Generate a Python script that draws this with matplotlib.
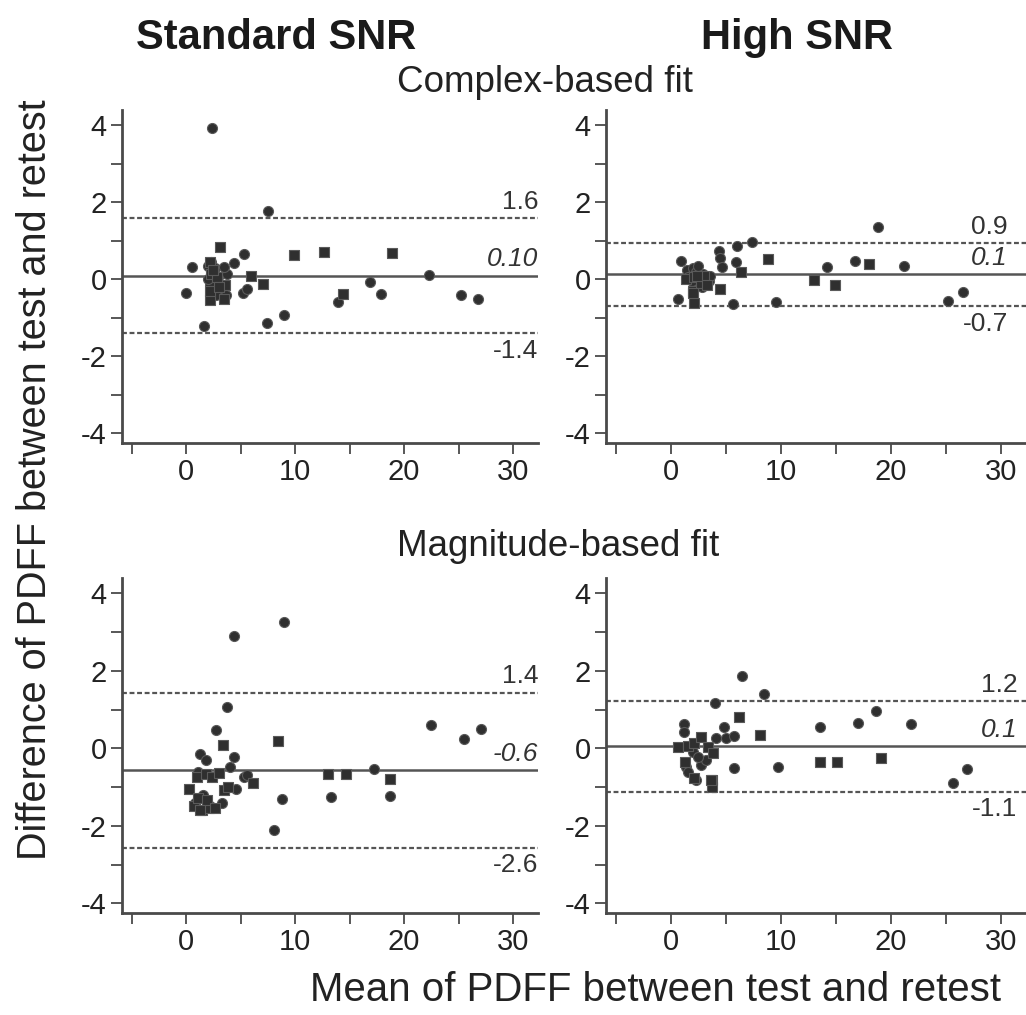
import matplotlib
matplotlib.use('Agg')
import matplotlib.pyplot as plt
from matplotlib.ticker import MultipleLocator

plt.rcParams['font.family'] = ['Liberation Sans', 'DejaVu Sans']
plt.rcParams['axes.unicode_minus'] = False

# ---- data ----
# standard SNR, complex-based fit
std_cplx_circ_x = [2.35, 7.53, 0.55, -0.06, 1.6, 5.34, 4.4, 5.2, 5.6, 7.4, 9.0, 13.9, 16.9, 17.9, 22.3,
                   25.2, 26.8, 2.0, 2.3, 2.6, 2.9, 2.2, 3.1, 3.7, 2.0, 2.7, 3.5, 3.66]
std_cplx_circ_y = [3.94, 1.78, 0.33, -0.35, -1.2, 0.66, 0.42, -0.35, -0.25, -1.12, -0.93, -0.58, -0.06, -0.38,
                   0.11, -0.41, -0.52, 0.35, 0.45, 0.3, 0.05, -0.15, -0.3, 0.15, 0.0, -0.4, 0.33, -0.41]
std_cplx_sq_x = [3.1, 9.85, 12.65, 18.85, 14.4, 7.07, 5.9, 2.2, 3.45, 3.55, 2.2, 2.3, 2.2, 2.8, 3.0, 2.5]
std_cplx_sq_y = [0.85, 0.63, 0.70, 0.68, -0.37, -0.13, 0.09, -0.54, -0.50, -0.15, 0.45, 0.15, -0.3, 0.05, -0.2, 0.25]

# high SNR, complex-based fit
high_cplx_circ_x = [18.8, 7.42, 6.06, 4.39, 4.48, 4.64, 5.91, 0.91, 0.61, 5.67, 9.55, 14.18, 16.76, 21.2, 25.24,
                    26.6, 1.5, 1.8, 2.0, 2.3, 2.6, 2.9, 3.2, 3.5, 2.2, 2.8, 1.9, 3.6, 1.6, 2.5]
high_cplx_circ_y = [1.35, 0.96, 0.86, 0.75, 0.56, 0.33, 0.46, 0.47, -0.50, -0.65, -0.58, 0.33, 0.47, 0.34, -0.56,
                    -0.32, 0.25, 0.1, 0.3, 0.2, 0.0, 0.15, 0.05, -0.05, -0.15, -0.2, -0.05, 0.1, 0.05, 0.35]
high_cplx_sq_x = [8.85, 18.03, 13.03, 14.9, 6.42, 4.45, 2.12, 1.97, 1.4, 2.1, 2.7, 3.0, 2.4, 3.3, 2.0]
high_cplx_sq_y = [0.52, 0.39, -0.02, -0.15, 0.2, -0.26, -0.62, -0.3, 0.0, 0.05, -0.1, 0.1, 0.1, -0.15, -0.35]

# standard SNR, magnitude-based fit
std_mag_circ_x = [9.02, 4.43, 3.76, 2.75, 22.48, 25.47, 27.1, 4.37, 4.0, 17.2, 8.8, 13.3, 18.7, 8.04, 3.24,
                  4.53, 5.29, 1.3, 1.77, 5.6, 0.8, 1.5, 2.2, 1.1]
std_mag_circ_y = [3.27, 2.91, 1.06, 0.47, 0.60, 0.23, 0.5, -0.22, -0.47, -0.52, -1.31, -1.25, -1.22, -2.11,
                  -1.42, -1.05, -0.73, -0.15, -0.3, -0.69, -1.4, -1.2, -1.5, -0.6]
std_mag_sq_x = [8.44, 3.36, 13.03, 14.68, 18.75, 6.12, 0.24, 3.46, 0.7, 1.47, 2.08, 1.1, 1.9, 1.0, 1.77,
                2.39, 3.0, 3.8, 1.3, 2.6]
std_mag_sq_y = [0.2, 0.09, -0.65, -0.65, -0.79, -0.9, -1.05, -1.08, -1.5, -1.59, -1.53, -1.29, -1.33, -0.73,
                -0.65, -0.73, -0.63, -1.0, -1.6, -1.55]

# high SNR, magnitude-based fit
high_mag_circ_x = [6.44, 8.45, 4.04, 18.63, 17.02, 21.8, 13.59, 4.86, 1.16, 5.78, 9.73, 26.96, 25.62, 2.28,
                   4.1, 5.0, 5.7, 1.21, 1.98, 1.37, 1.52, 2.74, 3.2, 2.44]
high_mag_circ_y = [1.87, 1.40, 1.16, 0.96, 0.66, 0.62, 0.54, 0.56, 0.63, -0.5, -0.47, -0.52, -0.89, -0.82,
                   0.26, 0.26, 0.33, 0.43, -0.09, -0.47, -0.6, -0.43, -0.3, -0.22]
high_mag_sq_x = [6.17, 8.15, 13.53, 15.1, 19.15, 3.74, 3.74, 0.61, 1.52, 2.13, 2.74, 3.35, 2.13, 3.8, 3.65, 1.3]
high_mag_sq_y = [0.8, 0.34, -0.36, -0.36, -0.26, -0.82, -0.99, 0.04, 0.06, 0.13, 0.3, 0.04, -0.77, -0.13,
                 -0.82, -0.35]

# mean / limits of agreement (line value, printed label)
std_cplx_lines = [(0.10, '0.10'), (1.6, '1.6'), (-1.4, '-1.4')]
high_cplx_lines = [(0.13, '0.1'), (0.95, '0.9'), (-0.69, '-0.7')]
std_mag_lines = [(-0.56, '-0.6'), (1.44, '1.4'), (-2.56, '-2.6')]
high_mag_lines = [(0.06, '0.1'), (1.23, '1.2'), (-1.12, '-1.1')]

col_titles = ['Standard SNR', 'High SNR']
row_titles = ['Complex-based fit', 'Magnitude-based fit']
x_label = 'Mean of PDFF between test and retest'
y_label = 'Difference of PDFF between test and retest'

W, H = 1026, 1015
fig = plt.figure(figsize=(W / 100, H / 100), dpi=100)

# axes boxes in pixels: left, top, right, bottom
boxes = [(122, 110, 538, 443), (606, 110, 1026, 443),
         (122, 578, 538, 913), (606, 578, 1026, 913)]
label_xfrac = [1.0, 0.957, 1.0, 0.979]

panels = [
    (std_cplx_circ_x, std_cplx_circ_y, std_cplx_sq_x, std_cplx_sq_y, std_cplx_lines),
    (high_cplx_circ_x, high_cplx_circ_y, high_cplx_sq_x, high_cplx_sq_y, high_cplx_lines),
    (std_mag_circ_x, std_mag_circ_y, std_mag_sq_x, std_mag_sq_y, std_mag_lines),
    (high_mag_circ_x, high_mag_circ_y, high_mag_sq_x, high_mag_sq_y, high_mag_lines),
]

axcol = '#4a4a4a'
ptcol = '#2f2f2f'

for i, (cx, cy, sx, sy, lines) in enumerate(panels):
    l, t, r, b = boxes[i]
    ax = fig.add_axes([l / W, 1 - b / H, (r - l) / W, (b - t) / H])
    ax.set_xlim(-5.9, 32.3)
    ax.set_ylim(-4.25, 4.4)

    mean, upper, lower = lines
    ax.axhline(mean[0], color='#555555', lw=1.8, zorder=1)
    for v in (upper, lower):
        ax.axhline(v[0], color='#555555', lw=1.6, ls=(0, (2.2, 1.2)), zorder=1)

    ax.scatter(cx, cy, s=52, marker='o', facecolor=ptcol, edgecolor='#5a5a5a', linewidth=0.8, zorder=3)
    ax.scatter(sx, sy, s=56, marker='s', facecolor=ptcol, edgecolor='#5a5a5a', linewidth=0.8, zorder=3)

    lx = label_xfrac[i]
    tr = ax.get_yaxis_transform()
    ax.annotate(mean[1], (lx, mean[0]), xycoords=tr, xytext=(0, 3), textcoords='offset points',
                ha='right', va='bottom', fontsize=19, style='italic', color='#333333')
    ax.annotate(upper[1], (lx, upper[0]), xycoords=tr, xytext=(0, 3), textcoords='offset points',
                ha='right', va='bottom', fontsize=19, color='#333333')
    ax.annotate(lower[1], (lx, lower[0]), xycoords=tr, xytext=(0, -4), textcoords='offset points',
                ha='right', va='top', fontsize=19, color='#333333')

    for side in ('top', 'right'):
        ax.spines[side].set_visible(False)
    for side in ('left', 'bottom'):
        ax.spines[side].set_color(axcol)
        ax.spines[side].set_linewidth(2)

    ax.xaxis.set_major_locator(MultipleLocator(10))
    ax.xaxis.set_minor_locator(MultipleLocator(5))
    ax.yaxis.set_major_locator(MultipleLocator(2))
    ax.yaxis.set_minor_locator(MultipleLocator(1))
    ax.tick_params(which='both', direction='out', length=8, width=1.3, color=axcol)
    ax.tick_params(axis='both', which='major', labelsize=21, labelcolor='#222222', pad=3)

# column and row headings
fig.text(276 / W, 1 - 38 / H, col_titles[0], ha='center', va='center', fontsize=30, fontweight='bold', color='#1a1a1a')
fig.text(797 / W, 1 - 38 / H, col_titles[1], ha='center', va='center', fontsize=30, fontweight='bold', color='#1a1a1a')
fig.text(545 / W, 1 - 82 / H, row_titles[0], ha='center', va='center', fontsize=26.5, color='#222222')
fig.text(558 / W, 1 - 546 / H, row_titles[1], ha='center', va='center', fontsize=26.5, color='#222222')

fig.text(656 / W, 1 - 990 / H, x_label, ha='center', va='center', fontsize=29, color='#222222')
fig.text(35 / W, 1 - 480 / H, y_label, ha='center', va='center', rotation=90, fontsize=28.5, color='#222222')

fig.savefig('out.png', dpi=100, facecolor='white')
